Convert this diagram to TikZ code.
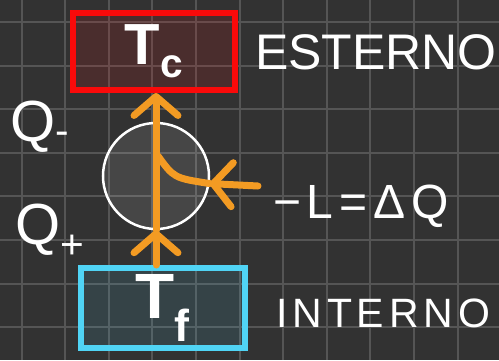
\documentclass[tikz,border=0pt]{standalone}
\usepackage{fontspec}
\setmainfont{Liberation Sans}
\newfontfamily\handfont[LetterSpace=12]{Liberation Sans}
\usetikzlibrary{positioning,calc}
\usetikzlibrary{arrows.meta}
\definecolor{BoardGray}{RGB}{50,50,50}
\definecolor{GridGray}{RGB}{85,85,85}
\definecolor{HotRed}{RGB}{250,10,10}
\definecolor{ColdCyan}{RGB}{80,212,245}
\definecolor{FlowOrange}{RGB}{243,155,35}
\tikzset{
  gridline/.style={draw=GridGray,line width=2pt},
  reservoir/.style={rectangle,line width=6pt,inner sep=0pt,text=white,text opacity=1},
  machine/.style={circle,draw=white,fill=white,fill opacity=0.1,line width=2.5pt,minimum size=106pt,inner sep=0pt},
  lab/.style={text=white,inner sep=0pt},
}
\tikzset{flow/.style={draw=FlowOrange,line width=7pt,line cap=round,line join=round}, barb/.style={-{Straight Barb[length=19pt,width=44pt,round]}}}

\begin{document}
\begin{tikzpicture}[x=1pt,y=-1pt]
\useasboundingbox[fill=BoardGray] (0,0) rectangle (499,360);
\foreach \gx in {0,...,10} {\draw[gridline] (21.5+43.6*\gx,0) -- (21.5+43.6*\gx,360);}
\foreach \gy in {0,...,7} {\draw[gridline] (0,22+43.6*\gy) -- (499,22+43.6*\gy);}
\node[reservoir,draw=HotRed,fill=HotRed,fill opacity=0.12,minimum width=162pt,minimum height=77pt,font=\bfseries\fontsize{58}{58}\selectfont] (tc) at (154,51.5) {T\textsubscript{c}};
\node[reservoir,draw=ColdCyan,fill=ColdCyan,fill opacity=0.11,minimum width=164pt,minimum height=80pt,font=\bfseries\fontsize{64}{64}\selectfont] (tf) at (163,308) {T\textsubscript{f}\hspace{14pt}};
\node[machine] (mc) at (156,176) {};
\node[lab,anchor=base west,font=\fontsize{50}{50}\selectfont] (esterno) at (255,69) {ESTERNO};
\node[lab,anchor=base west,font=\handfont\fontsize{41}{41}\selectfont] (interno) at (276,327) {INTERNO};
\node[lab,anchor=base west,font=\fontsize{58}{58}\selectfont] (qminus) at (10,141) {Q\textsubscript{-}};
\node[lab,anchor=base west,font=\fontsize{58}{58}\selectfont] (qplus) at (15,244) {Q\textsubscript{+}};
\node[lab,anchor=base west,font=\handfont\fontsize{48}{48}\selectfont] (work) at (273,218) {−L=ΔQ};
\coordinate (wsrc) at (258,186);
\coordinate (wjoin) at (158,156);
\draw[flow,barb] (tf.north -| mc) -- (mc.south);
\draw[flow,barb] (mc.south) -- (tc.south -| mc);
\draw[flow,barb] (wsrc) -- (mc.-8);
\draw[flow] (mc.-8) .. controls (174,178) .. (wjoin);
\end{tikzpicture}
\end{document}
